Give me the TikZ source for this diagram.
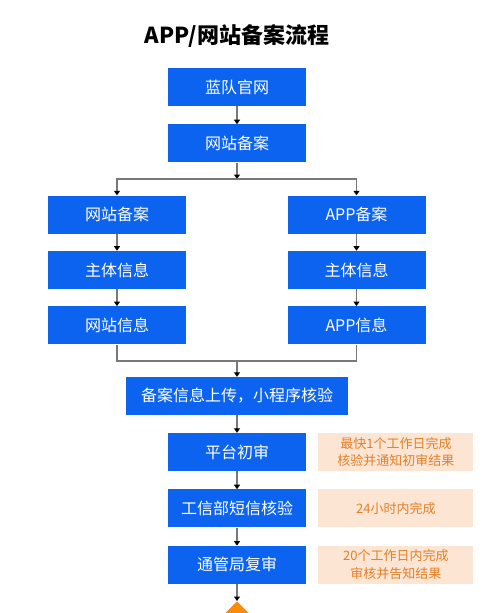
\documentclass[tikz,border=0pt]{standalone}
\usepackage{fontspec}
\setmainfont{Noto Sans CJK SC}
\usepackage{tikz}
\usetikzlibrary{shapes.geometric, arrows.meta, positioning, calc}
\usepackage{xcolor}
\definecolor{bablue}{RGB}{12,99,240}
\definecolor{bapeach}{RGB}{253,229,212}
\definecolor{baorange}{RGB}{226,128,40}
\definecolor{baend}{RGB}{248,140,12}

\begin{document}
\begin{tikzpicture}[x=1pt, y=-1pt,
  node distance=17pt and 0pt,
  box/.style={fill=bablue, text=white, minimum width=138pt, minimum height=38pt,
    inner sep=0pt, font=\fontsize{16}{18}\selectfont},
  note/.style={fill=bapeach, text=baorange, minimum width=155pt, minimum height=38pt,
    inner sep=0pt, align=center, font=\fontsize{13}{17.5}\selectfont},
  arrow/.style={draw={rgb,255:red,120;green,120;blue,120}, line width=1.1pt,
    -{Triangle[width=6pt, length=4.5pt, color=black]}},
  line/.style={draw={rgb,255:red,120;green,120;blue,120}, line width=1.1pt}]
  \path[use as bounding box, clip] (0,0) rectangle (500,613);
  \node[font=\fontsize{22}{24}\selectfont\bfseries] (title) at (237,36) {APP/网站备案流程};
  \node[box] (gw) at (237,87) {蓝队官网};
  \node[box, below=18pt of gw] (ba) {网站备案};
  % two branches
  \node[box] (l1) at (117,214.5) {网站备案};
  \node[box, below=of l1] (l2) {主体信息};
  \node[box, below=of l2] (l3) {网站信息};
  \node[box] (r1) at (356.5,214.5) {APP备案};
  \node[box, below=of r1] (r2) {主体信息};
  \node[box, below=of r2] (r3) {APP信息};
  \node[box, minimum width=222pt] (up) at (237,396) {备案信息上传，小程序核验};
  \node[box] (s1) at (237,452) {平台初审};
  \node[box, below=18pt of s1] (s2) {工信部短信核验};
  \node[box, below=18pt of s2] (s3) {通管局复审};
  \node[note, right=12pt of s1] (n1) {最快1个工作日完成\\核验并通知初审结果};
  \node[note, right=12pt of s2] (n2) {24小时内完成};
  \node[note, right=12pt of s3] (n3) {20个工作日内完成\\审核并告知结果};
  \node[diamond, fill=baend, minimum size=60pt, inner sep=0pt, anchor=north] (end) at (237,601) {};
  \coordinate (split) at (237,179);
  \coordinate (merge) at (237,361);
  \draw[arrow] (gw) -- (ba);
  \draw[arrow] (ba) -- (split);
  \draw[arrow] (split) -| (l1);
  \draw[arrow] (split) -| (r1);
  \draw[arrow] (l1) -- (l2);
  \draw[arrow] (l2) -- (l3);
  \draw[arrow] (r1) -- (r2);
  \draw[arrow] (r2) -- (r3);
  \draw[line] (l3) |- (merge) -| (r3);
  \draw[arrow] (merge) -- (up);
  \draw[arrow] (up) -- (s1);
  \draw[arrow] (s1) -- (s2);
  \draw[arrow] (s2) -- (s3);
  \draw[arrow] (s3) -- (end);
\end{tikzpicture}
\end{document}
